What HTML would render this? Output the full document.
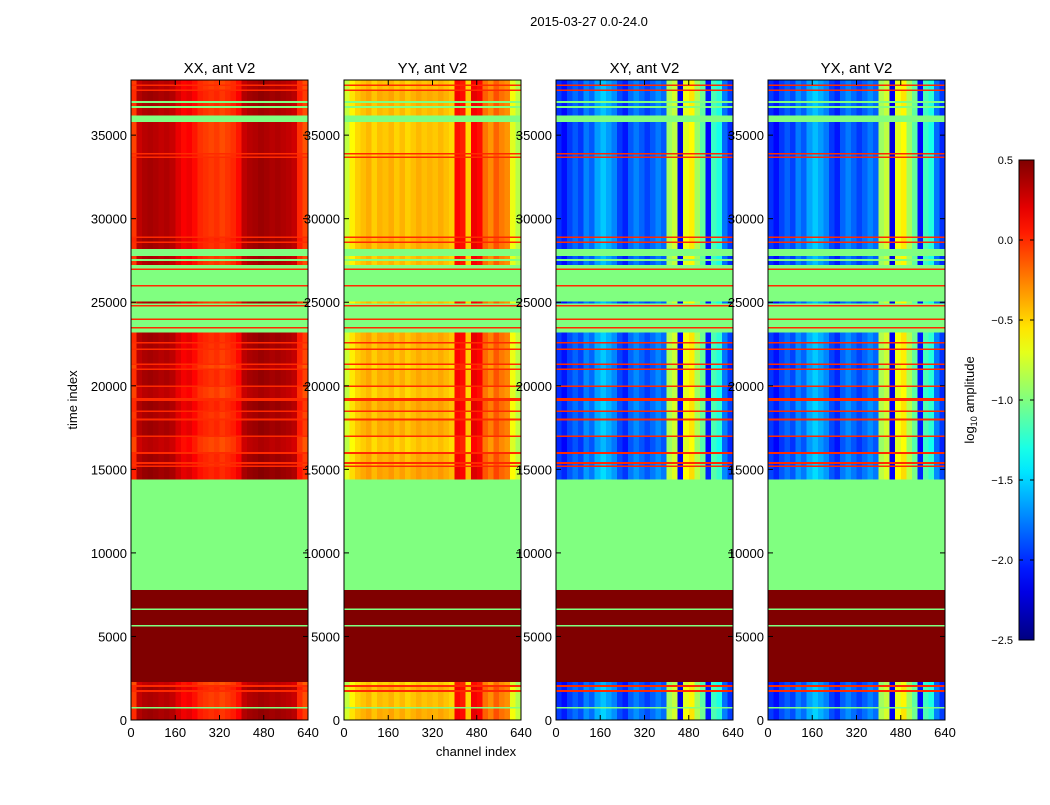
<!DOCTYPE html>
<html><head><meta charset="utf-8"><style>
html,body{margin:0;padding:0;background:#fff;}
svg text{font-family:"Liberation Sans",sans-serif;fill:#000;}
</style></head><body>
<svg id="fig" width="1050" height="800" viewBox="0 0 1050 800" xmlns="http://www.w3.org/2000/svg">
<rect width="1050" height="800" fill="#fff"/>
<text x="589" y="26" font-size="13" text-anchor="middle">2015-03-27 0.0-24.0</text>
<text x="476" y="756" font-size="13" text-anchor="middle">channel index</text>
<text transform="translate(77,400) rotate(-90)" font-size="13" text-anchor="middle">time index</text>
</svg>
<script>
// ---- data ----
const panelTitles = ["XX, ant V2", "YY, ant V2", "XY, ant V2", "YX, ant V2"];
const xTicks = [0, 160, 320, 480, 640];
const yTicks = [0, 5000, 10000, 15000, 20000, 25000, 30000, 35000];
const cbTicks = [0.5, 0.0, -0.5, -1.0, -1.5, -2.0, -2.5];
const cbTickLabels = ["0.5", "0.0", "\u22120.5", "\u22121.0", "\u22121.5", "\u22122.0", "\u22122.5"];
// column profiles: 32 columns of 20 channels each (log10 amplitude)
const profXX = [-0.05,0.3,0.35,0.37,0.35,0.32,0.34,0.3,0.2,0.12,0.15,0.08,0.0,-0.03,-0.06,-0.03,-0.08,-0.04,0.0,0.08,0.3,0.35,0.37,0.4,0.38,0.35,0.37,0.34,0.32,0.28,0.0,-0.1];
const profYY = [-0.8,-0.6,-0.5,-0.45,-0.4,-0.5,-0.42,-0.45,-0.4,-0.48,-0.42,-0.5,-0.45,-0.4,-0.45,-0.42,-0.45,-0.4,-0.45,-0.5,0.1,0.05,-0.5,0.15,0.1,-0.2,-0.3,-0.15,-0.25,-0.3,-0.7,-0.85];
const profXY = [-2.0,-2.1,-1.95,-1.85,-1.95,-1.75,-1.85,-1.65,-1.55,-1.65,-1.75,-1.95,-2.05,-1.85,-1.75,-1.85,-1.95,-1.85,-1.75,-1.85,-0.9,-0.8,-2.2,-0.7,-0.6,-0.9,-1.1,-2.1,-1.2,-1.3,-1.8,-2.0];
const profYX = [-2.0,-2.1,-1.95,-1.85,-1.95,-1.75,-1.85,-1.65,-1.55,-1.65,-1.75,-1.95,-2.05,-1.85,-1.75,-1.85,-1.95,-1.85,-1.75,-1.85,-0.9,-0.8,-2.2,-0.7,-0.6,-0.9,-1.1,-2.1,-1.2,-1.3,-1.8,-2.0];
// time bands: start index (end = next start), kind (d=data, g=flagged, r=saturated, o=orange line), shift
const bandStart = [
  0,700,800,1700,1800,2000,2100,2300,5600,5700,6600,6700,7800,
  14400,15150,15250,15350,15450,15950,16050,16950,17050,17950,18050,18450,18550,19100,19300,19950,20050,20950,21050,21250,21350,22150,22250,22550,22650,
  23200,23450,23550,23950,24050,24750,24850,24950,25050,25950,26050,26950,27050,27250,27500,27600,27800,
  28200,28550,28650,28850,28950,33650,33750,33850,33950,35800,36200,36650,36750,36950,37050,37650,37750,37950,38050];
const bandKind = ("dgdododrgrgrg" + "dodododododododododododod" + "gogogogdgogogdgdg" + "dododododgdgdgdodod").split("");
const bandShift = [
  0.05,0,0,0,0.05,0,-0.05,0,0,0,0,0,0,
  0.08,0,0.03,0,0.05,0,-0.03,0,0.05,0,0.02,0,0.06,0,-0.02,0,0.04,0,-0.04,0,0.02,0,0.03,0,0.05,
  0,0,0,0,0,0,0,0,0,0,0,0,0,0,0,0,0,
  0.04,0,0.06,0,0.02,0,0,0,-0.02,0,0,0,0.03,0,0.05,0,0,0,0];
const yMax = 38300, xMax = 640;

// ---- layout ----
const NS = "http://www.w3.org/2000/svg";
const svg = document.getElementById("fig");
const panelX = [131, 344, 556, 768];
const PW = 177, PT = 80, PB = 720;
const profiles = [profXX, profYY, profXY, profYX];
function mk(tag, attrs, parent){ const e=document.createElementNS(NS,tag); for(const k in attrs) e.setAttribute(k,attrs[k]); (parent||svg).appendChild(e); return e; }
function yScale(v){ return PB - (v / yMax) * (PB - PT); }
function xScale(px, v){ return px + (v / xMax) * PW; }
function clamp(a){ return Math.max(0, Math.min(1, a)); }
function jet(v){
  const t = clamp((v + 2.5) / 3);
  const r = clamp(Math.min(4*t-1.5, -4*t+4.5));
  const g = clamp(Math.min(4*t-0.5, -4*t+3.5));
  const b = clamp(Math.min(4*t+0.5, -4*t+2.5));
  return `rgb(${Math.round(r*255)},${Math.round(g*255)},${Math.round(b*255)})`;
}
const kindVal = {g:-1.0, r:0.6, o:0.0};

panelX.forEach((px, p) => {
  const g = mk("g", {});
  
  
  const prof = profiles[p];
  for (let i = 0; i < bandStart.length; i++) {
    const end = i + 1 < bandStart.length ? bandStart[i+1] : yMax;
    const y1 = yScale(end), y2 = yScale(bandStart[i]);
    const k = bandKind[i];
    if (k === "d") {
      const nc = prof.length, cw = xMax / nc;
      for (let c = 0; c < nc; c++) {
        const x1 = xScale(px, c*cw), x2 = xScale(px, (c+1)*cw);
        const r = mk("rect", {x:x1.toFixed(2), y:y1.toFixed(2), width:(x2-x1+0.4).toFixed(2), height:(y2-y1+0.3).toFixed(2), fill:jet(prof[c] + bandShift[i]), "shape-rendering":"crispEdges"}, g);
        
        
      }
    } else {
      const r = mk("rect", {x:px, y:y1.toFixed(2), width:PW, height:(y2-y1+0.3).toFixed(2), fill:jet(kindVal[k]), "shape-rendering":"crispEdges"}, g);
      
      
    }
  }
  const fr = mk("rect", {x:px, y:PT, width:PW, height:PB-PT, fill:"none", stroke:"#000", "stroke-width":1});
  
  
  const tt = mk("text", {x:px+PW/2, y:73, "font-size":15, "text-anchor":"middle"});
  tt.textContent = panelTitles[p];
  
  
  xTicks.forEach(v => {
    const x = xScale(px, v);
    mk("line", {x1:x, x2:x, y1:PB, y2:PB-5, stroke:"#000"});
    mk("line", {x1:x, x2:x, y1:PT, y2:PT+5, stroke:"#000"});
    const t = mk("text", {x:x, y:PB+17, "font-size":13, "text-anchor":"middle"});
    t.textContent = v;
    
    
  });
  yTicks.forEach(v => {
    const y = yScale(v);
    mk("line", {x1:px, x2:px+5, y1:y, y2:y, stroke:"#000"});
    mk("line", {x1:px+PW, x2:px+PW-5, y1:y, y2:y, stroke:"#000"});
    const t = mk("text", {x:px-4, y:y+5, "font-size":13, "text-anchor":"end"});
    t.textContent = v;
    
    
  });
});

// ---- colorbar ----
const CX = 1019, CW = 15, CT = 160, CB = 640;
const defs = mk("defs", {});
const grad = mk("linearGradient", {id:"jetg", x1:0, y1:1, x2:0, y2:0}, defs);
for (let i = 0; i <= 20; i++) {
  mk("stop", {offset: i/20, "stop-color": jet(-2.5 + 3*i/20)}, grad);
}
const cb = mk("rect", {x:CX, y:CT, width:CW, height:CB-CT, fill:"url(#jetg)", stroke:"#000"});


cbTicks.forEach((v, i) => {
  const y = CB - (v + 2.5) / 3 * (CB - CT);
  mk("line", {x1:CX, x2:CX+4, y1:y, y2:y, stroke:"#000"});
  mk("line", {x1:CX+CW, x2:CX+CW-4, y1:y, y2:y, stroke:"#000"});
  const t = mk("text", {x:CX-6, y:y+4, "font-size":11, "text-anchor":"end"});
  t.textContent = cbTickLabels[i];
  
  
});
const cl = mk("text", {transform:"translate(974,400) rotate(-90)", "font-size":13, "text-anchor":"middle"});
cl.innerHTML = 'log<tspan font-size="9" dy="3">10</tspan><tspan dy="-3"> amplitude</tspan>';


</script>
</body></html>
